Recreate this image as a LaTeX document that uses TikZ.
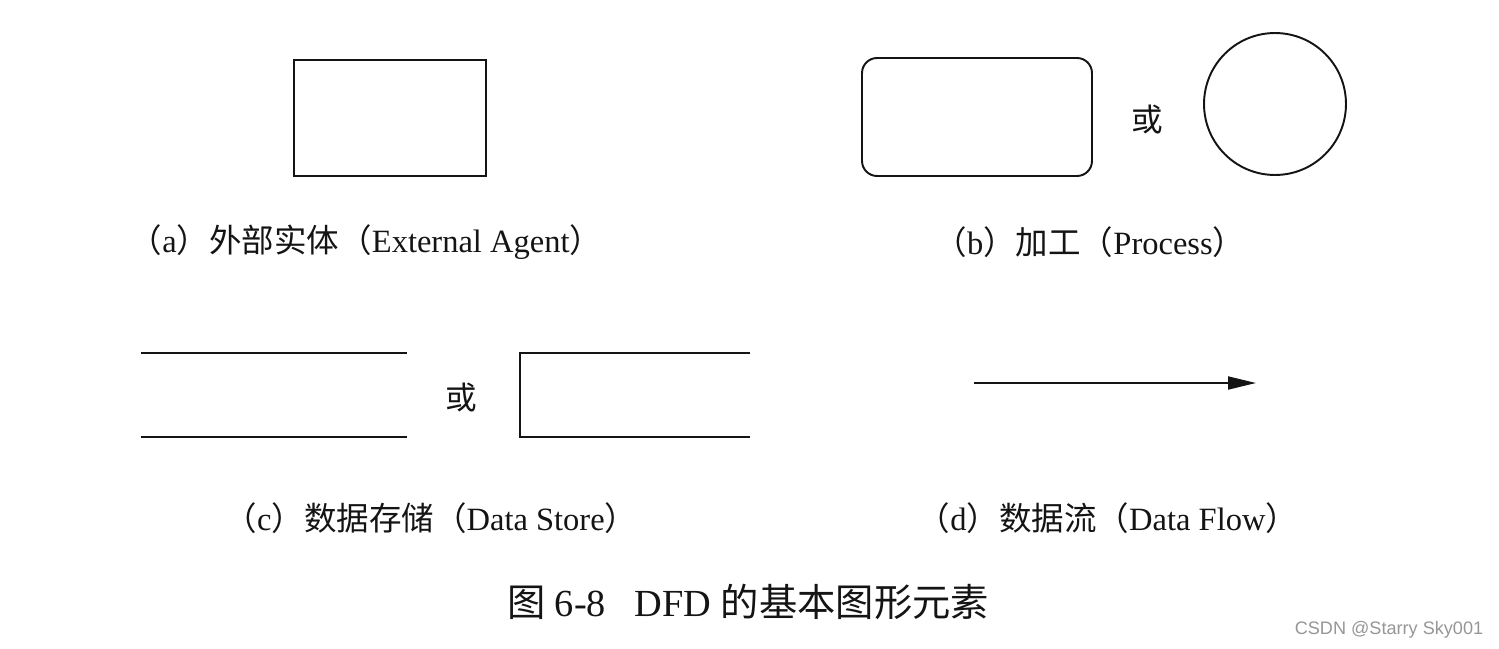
\documentclass[tikz,border=0pt]{standalone}
\usepackage{fontspec}
\setmainfont{Liberation Serif}
\newfontfamily\cjk{Noto Sans CJK SC}
\newfontfamily\wmfont{Liberation Sans}
\usetikzlibrary{arrows.meta, shapes.geometric}
\definecolor{inkblack}{RGB}{20, 20, 20}
\definecolor{markgray}{RGB}{150, 150, 150}

\begin{document}
\begin{tikzpicture}[
    x=0.02cm, y=-0.02cm,
    shapeline/.style={draw=inkblack, line width=1.1pt},
    entity/.style={rectangle, shapeline, minimum width=3.84cm, minimum height=2.32cm, inner sep=0pt},
    proc/.style={rectangle, shapeline, rounded corners=0.3cm, minimum width=4.6cm, minimum height=2.36cm, inner sep=0pt},
    bubble/.style={circle, shapeline, minimum size=2.84cm, inner sep=0pt},
    label/.style={font=\fontsize{18.5}{21}\selectfont, inner sep=0pt, text=inkblack},
    orword/.style={font=\cjk\fontsize{18}{20}\selectfont, inner sep=0pt, text=inkblack},
    flow/.style={line width=1.1pt, inkblack, -{Triangle[length=5.6mm, width=2.6mm]}}
]
\useasboundingbox (0,0) rectangle (1499,649);

% (a) external agent
\node[entity] (EA) at (390, 118) {};
\node[label] (LA) at (366, 242) {{\cjk（}a{\cjk）外部实体（}External Agent{\cjk）}};

% (b) process
\node[proc] (PR) at (977, 117) {};
\node[orword] (ORB) at (1147, 120) {或};
\node[bubble] (PC) at (1275, 104) {};
\node[label] (LB) at (1090, 242) {{\cjk（}b{\cjk）加工（}Process{\cjk）}};

% (c) data store
\draw[shapeline] (141, 353) -- (407, 353);
\draw[shapeline] (141, 437) -- (407, 437);
\node[orword] (ORC) at (461, 398) {或};
\draw[shapeline] (750, 353) -- (520, 353) -- (520, 437) -- (750, 437);
\node[label] (LC) at (431, 518) {{\cjk（}c{\cjk）数据存储（}Data Store{\cjk）}};

% (d) data flow
\coordinate (DF1) at (974, 383);
\coordinate (DF2) at (1256, 383);
\draw[flow] (DF1) -- (DF2);
\node[label] (LD) at (1108, 518) {{\cjk（}d{\cjk）数据流（}Data Flow{\cjk）}};

% caption
\node[font=\fontsize{21.8}{24}\selectfont, inner sep=0pt, text=inkblack] (CAP) at (748, 602)
    {{\cjk 图} 6-8\hspace{0.5em} DFD {\cjk 的基本图形元素}};

\node[font=\wmfont\fontsize{10.3}{12}\selectfont, text=markgray, inner sep=0pt] (WM) at (1389, 630) {CSDN @Starry Sky001};
\end{tikzpicture}
\end{document}
